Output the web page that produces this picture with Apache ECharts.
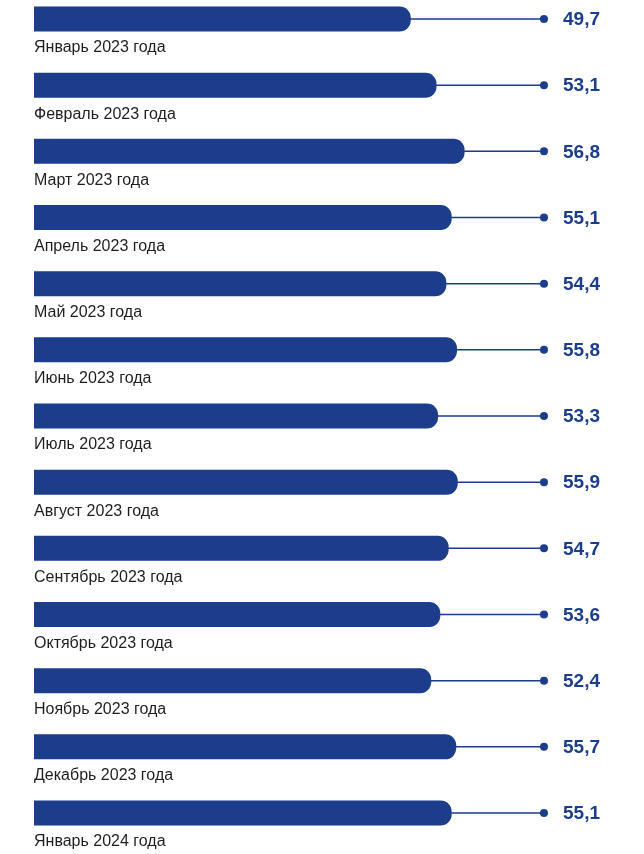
<!DOCTYPE html>
<html><head><meta charset="utf-8">
<script src="https://cdn.jsdelivr.net/npm/echarts@6/dist/echarts.min.js"></script>
<style>html,body{margin:0;padding:0;background:#fff}#c{width:644px;height:854px}</style>
</head><body><div id="c"></div>
<script>
const categories = ['Январь 2023 года','Февраль 2023 года','Март 2023 года','Апрель 2023 года','Май 2023 года','Июнь 2023 года','Июль 2023 года','Август 2023 года','Сентябрь 2023 года','Октябрь 2023 года','Ноябрь 2023 года','Декабрь 2023 года','Январь 2024 года'];
const values = [49.7, 53.1, 56.8, 55.1, 54.4, 55.8, 53.3, 55.9, 54.7, 53.6, 52.4, 55.7, 55.1];
const valueLabels = values.map(v => v.toFixed(1).replace('.', ','));

const BLUE = '#1b3d8b';
const DOT_X = 544;
const BAR_H = 25;
const chart = echarts.init(document.getElementById('c'), null, {renderer: 'canvas'});
chart.setOption({
  animation: false,
  grid: {left: 34, top: 0, width: 606.4, height: 854, containLabel: false},
  xAxis: {type: 'value', min: 0, max: 80, show: false},
  yAxis: {type: 'value', min: -0.287, max: 12.619, inverse: true, show: false},
  series: [
    {
      type: 'custom',
      data: values.map((v, i) => [v, i]),
      encode: {x: 0, y: 1},
      renderItem: function (params, api) {
        const i = api.value(1);
        const p = api.coord([api.value(0), i]);
        const p0 = api.coord([0, i]);
        const y = p[1];
        return {
          type: 'group',
          children: [
            {type: 'line', z2: 1, shape: {x1: p[0] - 4, y1: y, x2: DOT_X, y2: y}, style: {stroke: BLUE, lineWidth: 1.5}},
            {type: 'rect', z2: 2, shape: {x: p0[0], y: y - BAR_H / 2, width: p[0] - p0[0], height: BAR_H, r: [0, 11, 11, 0]}, style: {fill: BLUE}},
            {type: 'circle', z2: 2, shape: {cx: DOT_X, cy: y, r: 4}, style: {fill: BLUE}},
            {type: 'text', z2: 3, x: 563, y: y + 1, style: {text: valueLabels[i], fill: BLUE, font: 'bold 19px "Liberation Sans", Arial, sans-serif', textAlign: 'left', textVerticalAlign: 'middle'}},
            {type: 'text', z2: 3, x: 34, y: y + 29, style: {text: categories[i], fill: '#1e1e1e', font: '16px "Liberation Sans", Arial, sans-serif', textAlign: 'left', textVerticalAlign: 'middle'}}
          ]
        };
      }
    }
  ]
});
</script></body></html>
